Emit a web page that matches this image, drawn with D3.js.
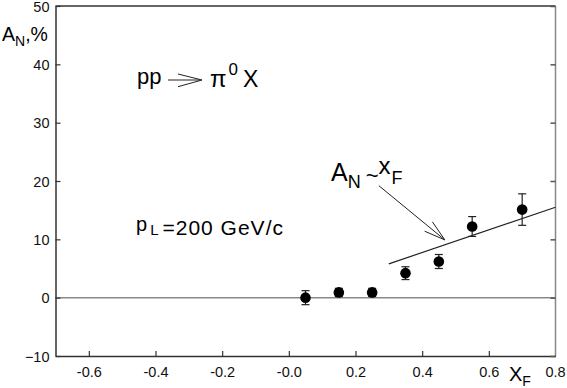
<!DOCTYPE html>
<html>
<head>
<meta charset="utf-8">
<script src="https://cdn.jsdelivr.net/npm/d3@7"></script>
<style>
  body { margin: 0; background: #fff; }
  svg { display: block; font-family: "Liberation Sans", Arial, sans-serif; }
</style>
</head>
<body>
<div class="chart"></div>
<script>
// measured points
const xF = [0.05, 0.15, 0.25, 0.35, 0.45, 0.55, 0.70];
const aN = [0.0, 0.9, 0.9, 4.2, 6.2, 12.2, 15.1];
const aNErr = [1.2, 0.7, 0.7, 1.1, 1.2, 1.7, 2.7];

// linear fit A_N ~ x_F
const fitX = [0.3, 0.8];
const fitY = [5.8, 15.5];

// annotation arrow (from label to the fit line)
const arrowFrom = [0.27, 19.2];
const arrowTo = [0.468, 9.9];

const xTicks = [-0.6, -0.4, -0.2, 0.0, 0.2, 0.4, 0.6];
const xTickLabels = ["-0.6", "-0.4", "-0.2", "-0.0", "0.2", "0.4", "0.6"];
const yTicks = [-10, 0, 10, 20, 30, 40, 50];

const width = 567, height = 388;
const mLeft = 55.5, mRight = 555.5, mTop = 6, mBottom = 356;

const svg = d3.select(".chart").append("svg")
  .attr("width", width)
  .attr("height", height);

const x = d3.scaleLinear().domain([-0.7, 0.8]).range([mLeft, mRight]);
const y = d3.scaleLinear().domain([-10, 50]).range([mBottom, mTop]);

// zero line
svg.append("line")
  .attr("x1", mLeft).attr("x2", mRight)
  .attr("y1", y(0)).attr("y2", y(0))
  .attr("stroke", "#888").attr("stroke-width", 1.5);

// frame
svg.append("line").attr("x1", mLeft).attr("x2", mRight).attr("y1", mTop).attr("y2", mTop)
  .attr("stroke", "#333").attr("stroke-width", 1.5);
svg.append("line").attr("x1", mRight).attr("x2", mRight).attr("y1", mTop).attr("y2", mBottom)
  .attr("stroke", "#888").attr("stroke-width", 1.5);

// axes, ticks pointing inward
const xAxis = svg.append("g")
  .attr("transform", `translate(0,${mBottom})`)
  .call(d3.axisBottom(x).tickValues(xTicks).tickSize(-5).tickSizeOuter(0)
    .tickPadding(11).tickFormat((d, i) => xTickLabels[i]));

const yAxis = svg.append("g")
  .attr("transform", `translate(${mLeft},0)`)
  .call(d3.axisLeft(y).tickValues(yTicks).tickSize(-5).tickSizeOuter(0).tickPadding(6));

svg.append("g")
  .attr("transform", `translate(${mRight},0)`)
  .call(d3.axisRight(y).tickValues(yTicks).tickSize(-5).tickSizeOuter(0).tickFormat(""))
  .call(g => g.select(".domain").remove())
  .selectAll("line").attr("stroke", "#555").attr("stroke-width", 1.5);

[xAxis, yAxis].forEach(g => {
  g.select(".domain").attr("stroke", "#333").attr("stroke-width", 1.5);
  g.selectAll(".tick line").attr("stroke", "#333").attr("stroke-width", 1.2);
  g.selectAll("text").attr("font-size", 14.5).attr("fill", "#111")
    .style("font-family", "'Liberation Sans', Arial, sans-serif");
});
yAxis.selectAll("text").attr("dy", "0.36em");

// 0.8 label at the right end
svg.append("text")
  .attr("x", x(0.8)).attr("y", mBottom + 20.5)
  .attr("text-anchor", "middle")
  .attr("font-size", 14.5).attr("fill", "#111")
  .text("0.8");

// fit line
svg.append("line")
  .attr("x1", x(fitX[0])).attr("y1", y(fitY[0]))
  .attr("x2", x(fitX[1])).attr("y2", y(fitY[1]))
  .attr("stroke", "#222").attr("stroke-width", 1.2);

// error bars
const pts = xF.map((v, i) => ({ x: v, y: aN[i], e: aNErr[i] }));
const eb = svg.append("g").attr("stroke", "#222").attr("stroke-width", 1.2);
pts.forEach(d => {
  const cx = x(d.x);
  eb.append("line").attr("x1", cx).attr("x2", cx).attr("y1", y(d.y - d.e)).attr("y2", y(d.y + d.e));
  eb.append("line").attr("x1", cx - 4).attr("x2", cx + 4).attr("y1", y(d.y - d.e)).attr("y2", y(d.y - d.e));
  eb.append("line").attr("x1", cx - 4).attr("x2", cx + 4).attr("y1", y(d.y + d.e)).attr("y2", y(d.y + d.e));
});

svg.selectAll(".dot")
  .data(pts)
  .enter()
  .append("circle")
  .attr("class", "dot")
  .attr("cx", d => x(d.x))
  .attr("cy", d => y(d.y))
  .attr("r", 5.3)
  .attr("fill", "#000");

// annotation arrow with open head
const ax1 = x(arrowFrom[0]), ay1 = y(arrowFrom[1]);
const ax2 = x(arrowTo[0]), ay2 = y(arrowTo[1]);
const ang = Math.atan2(ay2 - ay1, ax2 - ax1);
const headLen = 22, headAng = 0.28;
svg.append("path")
  .attr("d", `M${ax1},${ay1}L${ax2},${ay2}` +
    `M${ax2 - headLen * Math.cos(ang - headAng)},${ay2 - headLen * Math.sin(ang - headAng)}L${ax2},${ay2}` +
    `L${ax2 - headLen * Math.cos(ang + headAng)},${ay2 - headLen * Math.sin(ang + headAng)}`)
  .attr("fill", "none").attr("stroke", "#222").attr("stroke-width", 1);

// A_N ~ x_F label
const lab = svg.append("text").attr("x", 331).attr("y", 180.5).attr("fill", "#000");
lab.append("tspan").attr("font-size", 25).text("A");
lab.append("tspan").attr("font-size", 18).attr("dy", 7).text("N");
lab.append("tspan").attr("font-size", 22).attr("dy", -5).attr("dx", 5).text("~");
lab.append("tspan").attr("font-size", 24).attr("dy", -9).attr("dx", 0).text("x");
lab.append("tspan").attr("font-size", 18).attr("dy", 10).attr("dx", 1).text("F");

// y axis title
const yt = svg.append("text").attr("x", 2).attr("y", 41).attr("fill", "#000");
yt.append("tspan").attr("font-size", 19.5).text("A");
yt.append("tspan").attr("font-size", 14).attr("dy", 5).text("N");
yt.append("tspan").attr("font-size", 19.5).attr("dy", -5).text(",%");

// x axis title
const xt = svg.append("text").attr("x", 509).attr("y", 381).attr("fill", "#000");
xt.append("tspan").attr("font-size", 20).text("X");
xt.append("tspan").attr("font-size", 14).attr("dy", 5).text("F");

// reaction
const re = svg.append("g");
re.append("text").attr("x", 137).attr("y", 84).attr("font-size", 22).attr("fill", "#000").text("pp");
re.append("path")
  .attr("d", "M168,80L200,80M178,74L202,80L178,86.7")
  .attr("fill", "none").attr("stroke", "#222").attr("stroke-width", 1);
const pi = re.append("text").attr("x", 210).attr("y", 87).attr("fill", "#000");
pi.append("tspan").attr("font-size", 24).text("π");
pi.append("tspan").attr("font-size", 17).attr("dy", -12).attr("dx", 2).text("0");
pi.append("tspan").attr("font-size", 23).attr("dy", 12).attr("dx", 5).text("X");

// beam momentum
const pl = svg.append("text").attr("x", 136).attr("y", 235).attr("fill", "#000");
pl.append("tspan").attr("font-size", 20).attr("dy", -4).text("p");
pl.append("tspan").attr("font-size", 15).attr("dy", 4).attr("dx", 3).text("L");
pl.append("tspan").attr("font-size", 21).attr("dx", 4).attr("letter-spacing", 1).text("=200 GeV/c");
</script>
</body>
</html>
